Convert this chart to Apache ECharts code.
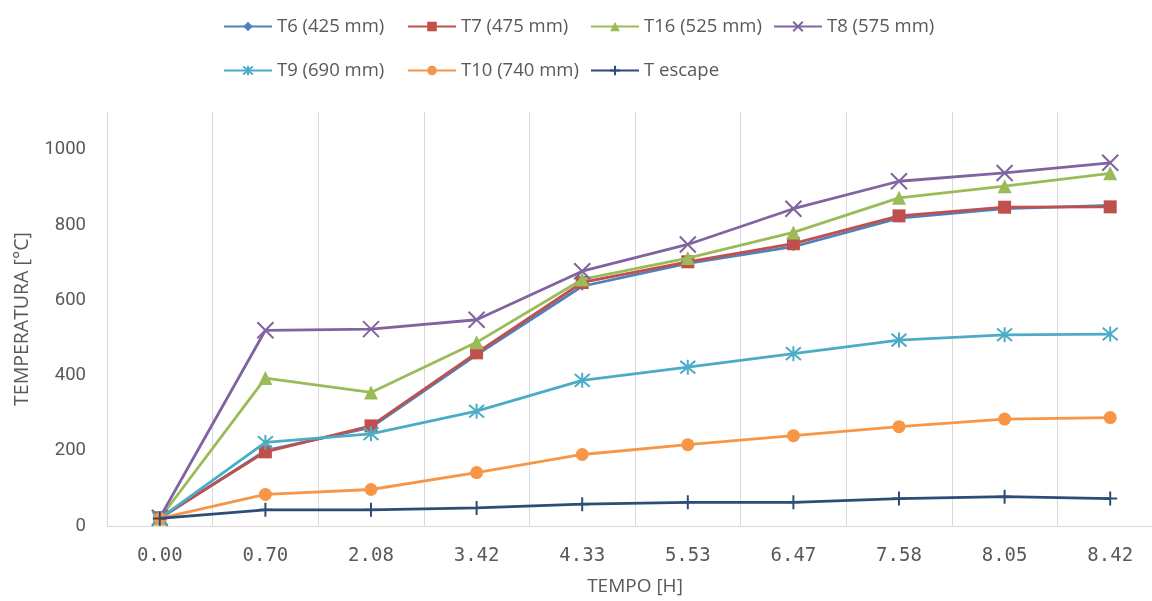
<!DOCTYPE html>
<html>
<head>
<meta charset="utf-8">
<script src="https://cdn.jsdelivr.net/npm/echarts@6/dist/echarts.min.js"></script>
<style>
html,body{margin:0;padding:0;background:#fff;overflow:hidden;}
#c{width:1163px;height:601px;}
</style>
</head>
<body>
<div id="c"></div>
<script>
const categories = ['0.00','0.70','2.08','3.42','4.33','5.53','6.47','7.58','8.05','8.42'];
const seriesNames = ['T6 (425 mm)','T7 (475 mm)','T16 (525 mm)','T8 (575 mm)','T9 (690 mm)','T10 (740 mm)','T escape'];
const t6  = [20, 200, 262, 455, 637, 698, 742, 818, 843, 852];
const t7  = [22, 197, 266, 460, 647, 702, 750, 824, 847, 848];
const t16 = [20, 393, 355, 488, 655, 712, 780, 872, 903, 937];
const t8  = [22, 520, 523, 548, 677, 748, 843, 916, 938, 965];
const t9  = [20, 222, 245, 305, 387, 422, 458, 494, 508, 510];
const t10 = [20, 84, 97, 142, 190, 216, 240, 264, 284, 288];
const tEscape = [20, 43, 43, 48, 58, 63, 63, 73, 78, 73];
const yTicks = [0, 200, 400, 600, 800, 1000];

const colors = ['#4F81BD','#C0504D','#9BBB59','#8064A2','#4BACC6','#F79646','#2C4D75'];
const symbols = [
  'diamond','rect','triangle',
  'path://M0,0L10,10M10,0L0,10',
  'path://M5,0L5,10M0.8,0.8L9.2,9.2M9.2,0.8L0.8,9.2',
  'circle',
  'path://M5,0L5,10M0,5L10,5'
];
const sizes = [9, 13, 14, 16, 15, 13, 14];
const strokeSym = [false,false,false,true,true,false,true];
const dataList = [t6,t7,t16,t8,t9,t10,tEscape];

const series = seriesNames.map((n,i)=>({
  name:n, type:'line', data:dataList[i],
  symbol:symbols[i], symbolSize:sizes[i], showAllSymbol:true,
  lineStyle:{color:colors[i], width:2.8},
  itemStyle: strokeSym[i] ? {color:colors[i], borderColor:colors[i], borderWidth:2} : {color:colors[i]},
  emphasis:{disabled:true},
  animation:false,
  z: 2+i
}));

const legendPos = [[223,17],[407,17],[590,17],[773,17],[223,61],[407,61],[590,61]];
const legends = seriesNames.map((n,i)=>({
  data:[n], left:legendPos[i][0], top:legendPos[i][1], padding:0,
  itemWidth:48, itemHeight:12, itemGap:0,
  textStyle:{fontFamily:'Open Sans', fontSize:18.5, color:'#595959'},
  selectedMode:false
}));

const chart = echarts.init(document.getElementById('c'), null, {renderer:'canvas'});
chart.setOption({
  animation:false,
  backgroundColor:'#fff',
  legend: legends,
  grid:{left:107, right:0, top:112, bottom:67, containLabel:false},
  xAxis:{
    type:'category', data:categories, boundaryGap:true,
    name:'TEMPO [H]', nameLocation:'middle', nameGap:51,
    nameTextStyle:{fontFamily:'Open Sans', fontSize:19, color:'#595959', verticalAlign:'top'},
    axisLine:{show:true, lineStyle:{color:'#d9d9d9', width:1}},
    axisTick:{show:false},
    axisLabel:{fontFamily:'DejaVu Sans Mono', fontSize:19, color:'#595959', margin:21, interval:0},
    splitLine:{show:true, lineStyle:{color:'#d9d9d9', width:1}}
  },
  yAxis:{
    type:'value', min:0, max:1100, interval:200,
    name:'TEMPERATURA [°C]', nameLocation:'middle', nameGap:75, nameRotate:90,
    nameTextStyle:{fontFamily:'Open Sans', fontSize:19.5, color:'#595959'},
    axisLine:{show:true, lineStyle:{color:'#d9d9d9', width:1}},
    axisTick:{show:false},
    axisLabel:{fontFamily:'Roboto', fontSize:18.5, color:'#595959', margin:21, showMaxLabel:false,
      formatter:(v)=> yTicks.includes(v) ? String(v) : ''},
    splitLine:{show:false}
  },
  series: series
});
</script>
</body>
</html>
